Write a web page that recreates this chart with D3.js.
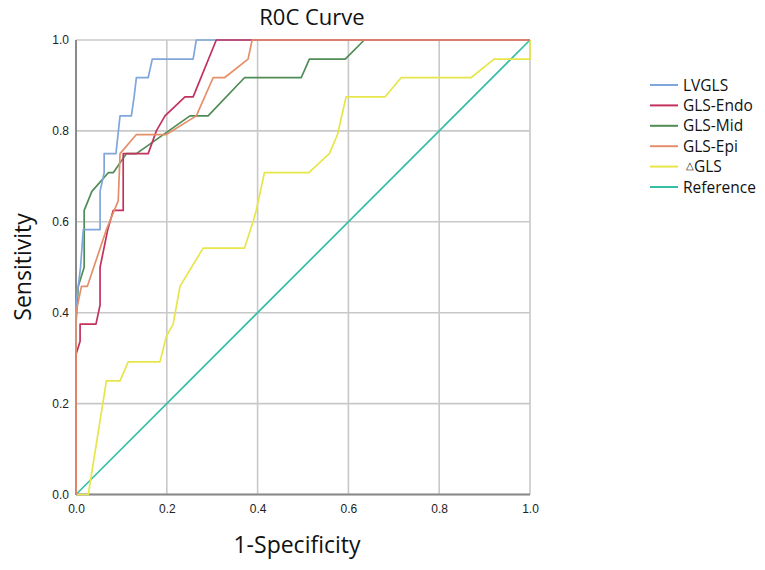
<!DOCTYPE html>
<html><head><meta charset="utf-8">
<script src="https://cdn.jsdelivr.net/npm/d3@7"></script>
<style>body{margin:0;background:#fff;}svg{display:block;font-family:"Open Sans","Noto Sans",sans-serif;}</style>
</head><body><svg id="c" width="765" height="570"></svg>
<script>
const seriesNames = ["LVGLS","GLS-Endo","GLS-Mid","GLS-Epi","\u25B3GLS","Reference"];
const seriesColors = ["#7fa6dc","#c3325c","#4f8c55","#e48f6a","#e6e64a","#35bfa6"];
const lvgls = [[0,0],[0,0.417],[0.01,0.5],[0.016,0.583],[0.053,0.583],[0.053,0.667],[0.062,0.708],[0.062,0.75],[0.088,0.75],[0.097,0.833],[0.122,0.833],[0.128,0.875],[0.133,0.917],[0.159,0.917],[0.168,0.958],[0.258,0.958],[0.265,1],[1,1]];
const endo = [[0,0],[0,0.308],[0.009,0.337],[0.009,0.375],[0.044,0.375],[0.053,0.417],[0.053,0.5],[0.07,0.583],[0.082,0.625],[0.104,0.625],[0.104,0.75],[0.159,0.75],[0.177,0.8],[0.196,0.833],[0.24,0.875],[0.258,0.875],[0.309,1],[1,1]];
const mid = [[0,0],[0,0.375],[0.005,0.458],[0.018,0.5],[0.018,0.625],[0.035,0.667],[0.071,0.708],[0.082,0.708],[0.111,0.75],[0.133,0.75],[0.251,0.833],[0.291,0.833],[0.371,0.917],[0.496,0.917],[0.514,0.958],[0.593,0.958],[0.635,1],[1,1]];
const epi = [[0,0],[0,0.4],[0.012,0.458],[0.025,0.458],[0.067,0.583],[0.093,0.646],[0.097,0.75],[0.133,0.792],[0.199,0.792],[0.265,0.833],[0.302,0.917],[0.327,0.917],[0.379,0.958],[0.388,1],[1,1]];
const dgls = [[0,0],[0.027,0],[0.067,0.25],[0.097,0.25],[0.115,0.292],[0.185,0.292],[0.199,0.348],[0.214,0.375],[0.229,0.458],[0.28,0.542],[0.371,0.542],[0.39,0.6],[0.397,0.625],[0.415,0.708],[0.513,0.708],[0.558,0.75],[0.576,0.792],[0.595,0.875],[0.681,0.875],[0.716,0.917],[0.87,0.917],[0.921,0.958],[1,0.958],[1,1]];
const reference = [[0,0],[1,1]];
const seriesData = [lvgls,endo,mid,epi,dgls,reference];
const tickVals = [0,0.2,0.4,0.6,0.8,1.0];

const svg = d3.select("#c");
const x = d3.scaleLinear().domain([0,1]).range([76,530]);
const y = d3.scaleLinear().domain([0,1]).range([494.5,40]);

// grid
const g = svg.append("g");
g.selectAll(".gx").data(tickVals).join("line")
  .attr("x1",d=>x(d)).attr("x2",d=>x(d)).attr("y1",y(0)).attr("y2",y(1))
  .attr("stroke","#c8c8c8").attr("stroke-width",1.6);
g.selectAll(".gy").data(tickVals).join("line")
  .attr("y1",d=>y(d)).attr("y2",d=>y(d)).attr("x1",x(0)).attr("x2",x(1))
  .attr("stroke","#c8c8c8").attr("stroke-width",1.6);

// axes lines
svg.append("line").attr("x1",x(0)).attr("x2",x(0)).attr("y1",y(0)).attr("y2",y(1)).attr("stroke","#8a8a8a").attr("stroke-width",2);
svg.append("line").attr("x1",x(0)).attr("x2",x(1)).attr("y1",y(0)).attr("y2",y(0)).attr("stroke","#8a8a8a").attr("stroke-width",2);

// series
const line = d3.line().x(d=>x(d[0])).y(d=>y(d[1]));
const order = [5,4,2,0,1,3];
order.forEach(i=>{
  svg.append("path").datum(seriesData[i]).attr("d",line)
    .attr("fill","none").attr("stroke",seriesColors[i]).attr("stroke-width",1.7)
    .attr("stroke-linejoin","round");
});

// axes with d3
const xAxis = d3.axisBottom(x).tickValues(tickVals).tickFormat(d3.format(".1f")).tickSize(0).tickPadding(10);
const yAxis = d3.axisLeft(y).tickValues(tickVals).tickFormat(d3.format(".1f")).tickSize(0).tickPadding(7);
const gx = svg.append("g").attr("transform",`translate(0,${y(0)})`).call(xAxis);
const gy = svg.append("g").attr("transform",`translate(${x(0)},0)`).call(yAxis);
[gx,gy].forEach(a=>{a.select(".domain").remove();
  a.selectAll("text").attr("font-family","'Liberation Sans',Arial,sans-serif").attr("font-size",12).attr("fill","#222");});

// title & labels
svg.append("text").attr("x",312).attr("y",25).attr("text-anchor","middle").attr("font-size",22).attr("fill","#111").text("R0C Curve");
svg.append("text").attr("x",297).attr("y",553).attr("text-anchor","middle").attr("font-size",23).attr("fill","#111").text("1-Specificity");
svg.append("text").attr("transform","translate(31,267) rotate(-90)").attr("text-anchor","middle").attr("font-size",23).attr("fill","#111").text("Sensitivity");

// legend
const leg = svg.append("g");
const legY = d3.scaleLinear().domain([0,5]).range([85,187]);
seriesNames.forEach((n,i)=>{
  leg.append("line").attr("x1",650).attr("x2",678).attr("y1",legY(i)).attr("y2",legY(i))
    .attr("stroke",seriesColors[i]).attr("stroke-width",2);
  const t = leg.append("text").attr("x",683).attr("y",legY(i)+5.5).attr("font-size",15.5).attr("fill","#111");
  if(i===4){
    t.append("tspan").attr("font-size",10).attr("dx",3).attr("dy",-3).text("\u25B3");
    t.append("tspan").attr("dy",3).text("GLS");
  } else t.text(n);
});
</script></body></html>
